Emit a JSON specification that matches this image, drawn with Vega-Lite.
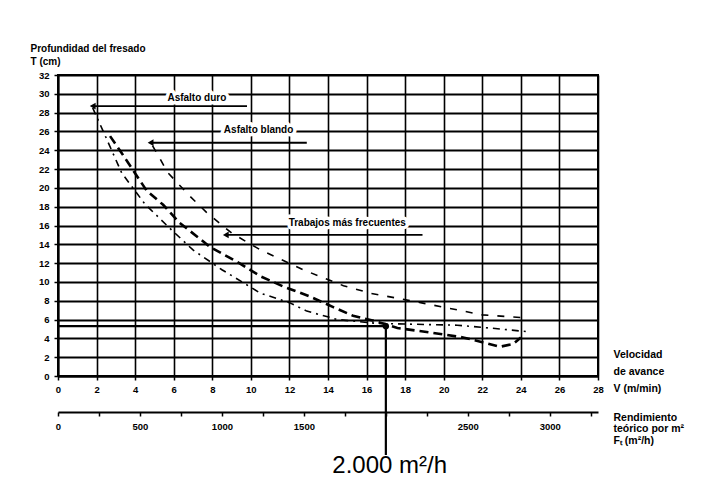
{
  "$schema": "https://vega.github.io/schema/vega-lite/v6.json",
  "width": 540,
  "height": 301,
  "autosize": "none",
  "padding": {"left": 58, "top": 75, "right": 118, "bottom": 120},
  "background": "white",
  "config": {
    "view": {"stroke": "black", "strokeWidth": 2},
    "font": "Liberation Sans"
  },
  "datasets": {
    "curves": [
      {"curve": "duro", "V": 1.8, "T": 28.5},
      {"curve": "duro", "V": 2.5, "T": 25.3},
      {"curve": "duro", "V": 3.3, "T": 21.6},
      {"curve": "duro", "V": 4.5, "T": 18.3},
      {"curve": "duro", "V": 5.8, "T": 15.7},
      {"curve": "duro", "V": 7.0, "T": 13.4},
      {"curve": "duro", "V": 8.5, "T": 11.3},
      {"curve": "duro", "V": 10.5, "T": 8.8},
      {"curve": "duro", "V": 12.0, "T": 7.8},
      {"curve": "duro", "V": 12.9, "T": 6.9},
      {"curve": "duro", "V": 14.5, "T": 6.0},
      {"curve": "duro", "V": 16.5, "T": 5.6},
      {"curve": "duro", "V": 18.5, "T": 5.5},
      {"curve": "duro", "V": 20.7, "T": 5.4},
      {"curve": "duro", "V": 22.4, "T": 5.1},
      {"curve": "duro", "V": 24.4, "T": 4.7},
      {"curve": "blando", "V": 4.9, "T": 24.5},
      {"curve": "blando", "V": 5.7, "T": 21.6},
      {"curve": "blando", "V": 6.8, "T": 19.2},
      {"curve": "blando", "V": 7.7, "T": 17.4},
      {"curve": "blando", "V": 9.0, "T": 15.2},
      {"curve": "blando", "V": 10.5, "T": 13.4},
      {"curve": "blando", "V": 12.7, "T": 11.3},
      {"curve": "blando", "V": 14.8, "T": 9.6},
      {"curve": "blando", "V": 16.2, "T": 8.8},
      {"curve": "blando", "V": 18.8, "T": 7.8},
      {"curve": "blando", "V": 22.0, "T": 6.5},
      {"curve": "blando", "V": 24.1, "T": 6.2},
      {"curve": "frecuentes", "V": 2.7, "T": 25.5},
      {"curve": "frecuentes", "V": 3.3, "T": 23.7},
      {"curve": "frecuentes", "V": 4.6, "T": 19.7},
      {"curve": "frecuentes", "V": 5.45, "T": 18.2},
      {"curve": "frecuentes", "V": 6.3, "T": 16.3},
      {"curve": "frecuentes", "V": 7.9, "T": 13.7},
      {"curve": "frecuentes", "V": 9.4, "T": 12.0},
      {"curve": "frecuentes", "V": 10.5, "T": 10.6},
      {"curve": "frecuentes", "V": 11.7, "T": 9.5},
      {"curve": "frecuentes", "V": 13.0, "T": 8.5},
      {"curve": "frecuentes", "V": 14.3, "T": 7.3},
      {"curve": "frecuentes", "V": 15.3, "T": 6.4},
      {"curve": "frecuentes", "V": 16.5, "T": 5.8},
      {"curve": "frecuentes", "V": 17.6, "T": 5.1},
      {"curve": "frecuentes", "V": 19.4, "T": 4.6},
      {"curve": "frecuentes", "V": 21.0, "T": 4.1},
      {"curve": "frecuentes", "V": 22.0, "T": 3.6},
      {"curve": "frecuentes", "V": 22.9, "T": 3.1},
      {"curve": "frecuentes", "V": 23.6, "T": 3.4},
      {"curve": "frecuentes", "V": 24.0, "T": 4.1}
    ],
    "arrows": [
      {"V": 9.8, "V2": 1.8, "T": 28.7},
      {"V": 12.9, "V2": 4.8, "T": 24.8},
      {"V": 18.9, "V2": 8.7, "T": 15.0}
    ],
    "arrowheads": [
      {"V": 1.8, "T": 28.7},
      {"V": 4.8, "T": 24.8},
      {"V": 8.7, "T": 15.0}
    ],
    "labels": [
      {"label": "Asfalto duro", "V": 7.2, "T": 29.6},
      {"label": "Asfalto blando", "V": 10.4, "T": 26.1},
      {"label": "Trabajos más frecuentes", "V": 15.0, "T": 16.3}
    ],
    "reading": [
      {"V": 0, "V2": 17.0, "T": 5.3, "T2": 5.3},
      {"V": 17.0, "V2": 17.0, "T": 5.3, "T2": -8.4}
    ],
    "point": [
      {"V": 17.0, "T": 5.3}
    ],
    "big": [
      {"label": "2.000 m²/h", "V": 17.2, "T": -9.6}
    ],
    "second": [
      {"F": 0},
      {"F": 3294}
    ]
  },
  "layer": [
    {
      "encoding": {
        "x": {
          "field": "V", "type": "quantitative",
          "scale": {"domain": [0, 28], "nice": false, "zero": false},
          "axis": {
            "values": [0, 2, 4, 6, 8, 10, 12, 14, 16, 18, 20, 22, 24, 26, 28],
            "tickCount": 40, "format": "d",
            "grid": true, "gridColor": "black", "gridWidth": 1.6, "gridOpacity": 1,
            "domainColor": "black", "domainWidth": 2,
            "tickColor": "black", "tickSize": 4, "tickWidth": 1.5,
            "labelFont": "Liberation Sans", "labelFontWeight": "bold", "labelFontSize": 9.5,
            "labelColor": "black", "labelPadding": 4, "labelFlush": false, "labelOverlap": false,
            "title": ["Velocidad", "de avance", "V (m/min)"],
            "titleFont": "Liberation Sans", "titleFontWeight": "bold", "titleFontSize": 10.5,
            "titleColor": "black", "titleAlign": "left", "titleBaseline": "top",
            "titleX": 555, "titleY": -27, "titleLineHeight": 17
          }
        },
        "y": {
          "field": "T", "type": "quantitative",
          "scale": {"domain": [0, 32], "nice": false, "zero": false},
          "axis": {
            "values": [0, 2, 4, 6, 8, 10, 12, 14, 16, 18, 20, 22, 24, 26, 28, 30, 32],
            "tickCount": 40, "format": "d",
            "grid": true, "gridColor": "black", "gridWidth": 1.8, "gridOpacity": 1,
            "domainColor": "black", "domainWidth": 2,
            "tickColor": "black", "tickSize": 4, "tickWidth": 1.5,
            "labelFont": "Liberation Sans", "labelFontWeight": "bold", "labelFontSize": 9.5,
            "labelColor": "black", "labelPadding": 5, "labelOverlap": false,
            "title": ["Profundidad del fresado", "T (cm)"],
            "titleFont": "Liberation Sans", "titleFontWeight": "bold", "titleFontSize": 10,
            "titleColor": "black", "titleAngle": 0, "titleAlign": "left", "titleBaseline": "middle",
            "titleX": -28, "titleY": -27, "titleLineHeight": 13
          }
        }
      },
      "layer": [
        {
          "data": {"name": "curves"},
          "transform": [{"filter": "datum.curve == 'frecuentes'"}],
          "mark": {"type": "line", "color": "black", "strokeWidth": 2.6, "strokeDash": [9, 5]}
        },
        {
          "data": {"name": "curves"},
          "transform": [{"filter": "datum.curve == 'blando'"}],
          "mark": {"type": "line", "color": "black", "strokeWidth": 1.6, "strokeDash": [7, 9]}
        },
        {
          "data": {"name": "curves"},
          "transform": [{"filter": "datum.curve == 'duro'"}],
          "mark": {"type": "line", "color": "black", "strokeWidth": 1.6, "strokeDash": [7, 5, 2, 5]}
        },
        {
          "data": {"name": "reading"},
          "mark": {"type": "rule", "color": "black", "strokeWidth": 2.2},
          "encoding": {
            "x2": {"field": "V2"},
            "y2": {"field": "T2"}
          }
        },
        {
          "data": {"name": "point"},
          "mark": {"type": "point", "filled": true, "color": "black", "size": 40, "opacity": 1}
        },
        {
          "data": {"name": "arrows"},
          "mark": {"type": "rule", "color": "black", "strokeWidth": 1.8},
          "encoding": {
            "x2": {"field": "V2"}
          }
        },
        {
          "data": {"name": "arrowheads"},
          "mark": {"type": "point", "shape": "triangle-left", "filled": true, "color": "black", "size": 45, "opacity": 1}
        },
        {
          "data": {"name": "labels"},
          "mark": {"type": "text", "font": "Liberation Sans", "fontWeight": "bold", "fontSize": 10, "color": "white", "stroke": "white", "strokeWidth": 7, "strokeJoin": "round", "align": "center", "baseline": "middle"},
          "encoding": {
            "text": {"field": "label"}
          }
        },
        {
          "data": {"name": "labels"},
          "mark": {"type": "text", "font": "Liberation Sans", "fontWeight": "bold", "fontSize": 10, "color": "black", "align": "center", "baseline": "middle"},
          "encoding": {
            "text": {"field": "label"}
          }
        },
        {
          "data": {"name": "big"},
          "mark": {"type": "text", "font": "Liberation Sans", "fontSize": 24, "color": "black", "align": "center", "baseline": "middle"},
          "encoding": {
            "text": {"field": "label"}
          }
        }
      ]
    },
    {
      "data": {"name": "second"},
      "mark": {"type": "point", "opacity": 0},
      "encoding": {
        "x": {
          "field": "F", "type": "quantitative",
          "scale": {"domain": [0, 3294], "nice": false, "zero": false},
          "axis": {
            "orient": "bottom", "offset": 36,
            "values": [0, 250, 500, 750, 1000, 1250, 1500, 1750, 2000, 2250, 2500, 2750, 3000, 3250],
            "tickCount": 40,
            "format": "d",
            "labelExpr": "(datum.value % 500 == 0 && datum.value != 2000) ? datum.label : ''",
            "grid": false,
            "domainColor": "black", "domainWidth": 2,
            "tickColor": "black", "tickSize": 4, "tickWidth": 1.5,
            "labelFont": "Liberation Sans", "labelFontWeight": "bold", "labelFontSize": 9.5,
            "labelColor": "black", "labelPadding": 5, "labelFlush": false, "labelOverlap": false,
            "title": ["Rendimiento", "teórico por m²", "Fₜ (m²/h)"],
            "titleFont": "Liberation Sans", "titleFontWeight": "bold", "titleFontSize": 10.5,
            "titleColor": "black", "titleAlign": "left", "titleBaseline": "top",
            "titleX": 555, "titleY": 0, "titleLineHeight": 11.5
          }
        }
      }
    }
  ],
  "resolve": {"scale": {"x": "independent"}}
}
